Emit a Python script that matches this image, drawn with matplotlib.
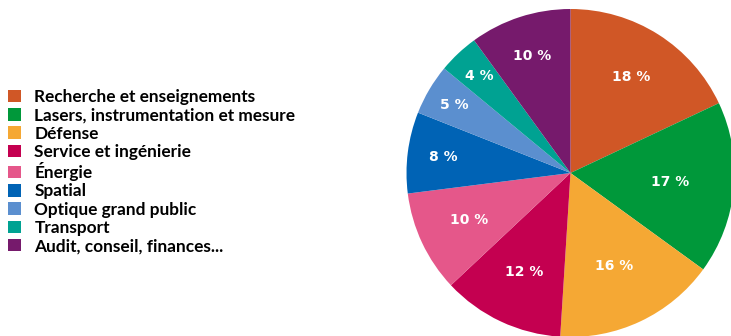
import matplotlib
matplotlib.use("Agg")
import numpy as np
import matplotlib.pyplot as plt
from matplotlib.patches import Patch

categories = ["Recherche et enseignements", "Lasers, instrumentation et mesure",
              "Défense", "Service et ingénierie", "Énergie", "Spatial",
              "Optique grand public", "Transport", "Audit, conseil, finances..."]
values = [18, 17, 16, 12, 10, 8, 5, 4, 10]
colors = ["#D05726", "#00983A", "#F5A834", "#C40050", "#E5578A",
          "#0063B5", "#5B8FCF", "#00A292", "#761A6C"]
# radial position of each percentage label (fraction of radius)
label_r = [0.69, 0.61, 0.63, 0.67, 0.68, 0.78, 0.82, 0.81, 0.75]

W, H = 731, 336
fig = plt.figure(figsize=(W / 100, H / 100), dpi=100)

# pie axes positioned by pixel centre / radius
cx, cy, r = 570.5, 173, 164
ax = fig.add_axes([(cx - r) / W, 1 - (cy + r) / H, 2 * r / W, 2 * r / H])
wedges, _ = ax.pie(values, colors=colors, startangle=90, counterclock=False,
                   wedgeprops=dict(linewidth=0), radius=1)
for w, v, d in zip(wedges, values, label_r):
    w.set_clip_on(False)
    a = np.deg2rad((w.theta1 + w.theta2) / 2)
    ax.text(d * np.cos(a), d * np.sin(a), f"{v} %", color="white",
            family="DejaVu Sans", fontsize=10, fontweight="bold",
            ha="center", va="center")
ax.set_xlim(-1, 1)
ax.set_ylim(-1, 1)
ax.set_aspect("equal")

handles = [Patch(facecolor=c, edgecolor="none") for c in colors]
leg = fig.legend(handles, categories, loc="upper left",
                 bbox_to_anchor=(3 / W, 1 - 84 / H), frameon=False,
                 prop=dict(family="Lato", weight="bold", size=12.4),
                 handlelength=0.74, handleheight=0.74, handletextpad=0.78,
                 labelspacing=0.13, borderpad=0.3, borderaxespad=0)

fig.savefig("out.png", dpi=100)
